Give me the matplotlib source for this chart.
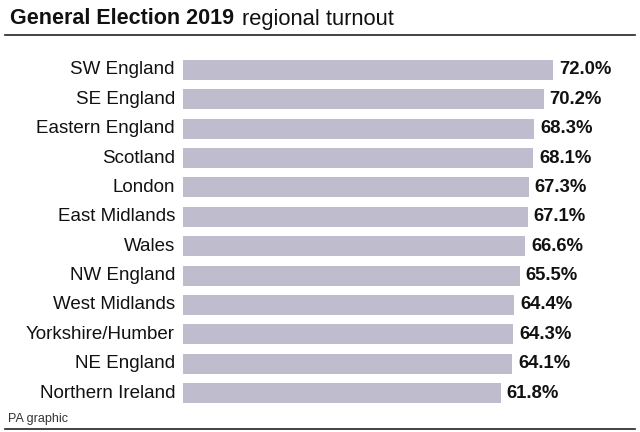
import matplotlib
matplotlib.use("Agg")
import matplotlib.pyplot as plt
from matplotlib.lines import Line2D

regions = ["SW England", "SE England", "Eastern England", "Scotland", "London",
           "East Midlands", "Wales", "NW England", "West Midlands",
           "Yorkshire/Humber", "NE England", "Northern Ireland"]
turnout = [72.0, 70.2, 68.3, 68.1, 67.3, 67.1, 66.6, 65.5, 64.4, 64.3, 64.1, 61.8]

plt.rcParams['font.family'] = ['Liberation Sans', 'DejaVu Sans']
W, H = 640, 432
fig = plt.figure(figsize=(W / 100, H / 100), dpi=100)
fig.patch.set_facecolor('white')

# axes: x from 183px to 553px (0..72), y centers 70px..393px
x0, x1 = 183, 553
ytop, ybot = 55.3, 407.7
ax = fig.add_axes([x0 / W, 1 - ybot / H, (x1 - x0) / W, (ybot - ytop) / H])
ypos = list(range(len(regions)))
ax.barh(ypos, turnout, height=0.68, color='#bfbccd')
ax.set_xlim(0, 72.0)
ax.set_ylim(len(regions) - 0.5, -0.5)
ax.axis('off')

txt = '#111111'
for i, (r, v) in enumerate(zip(regions, turnout)):
    ax.annotate(r, xy=(0, i), xytext=(-8, 0), textcoords='offset pixels',
                ha='right', va='center', fontsize=13.5, color=txt)
    ax.annotate(f"{v:.1f}%", xy=(v, i), xytext=(6, 0), textcoords='offset pixels',
                ha='left', va='center', fontsize=13.3, fontweight='bold', color=txt)

# title
t1 = fig.text(10 / W, 1 - 19 / H, "General Election 2019", fontsize=15.5,
              fontweight='bold', color=txt, ha='left', va='center')
fig.canvas.draw()
bb = t1.get_window_extent()
fig.text((bb.x1 + 8) / W, 1 - 19 / H, "regional turnout", fontsize=15.8,
         color=txt, ha='left', va='center')

fig.add_artist(Line2D([5 / W, 635 / W], [1 - 35 / H, 1 - 35 / H],
                      color='#222222', lw=1.2, transform=fig.transFigure))
fig.add_artist(Line2D([5 / W, 635 / W], [1 - 429 / H, 1 - 429 / H],
                      color='#222222', lw=1.2, transform=fig.transFigure))
fig.text(8 / W, 1 - 419 / H, "PA graphic", fontsize=9, color='#333333',
         ha='left', va='center')

fig.savefig("out.png", dpi=100, facecolor='white')
